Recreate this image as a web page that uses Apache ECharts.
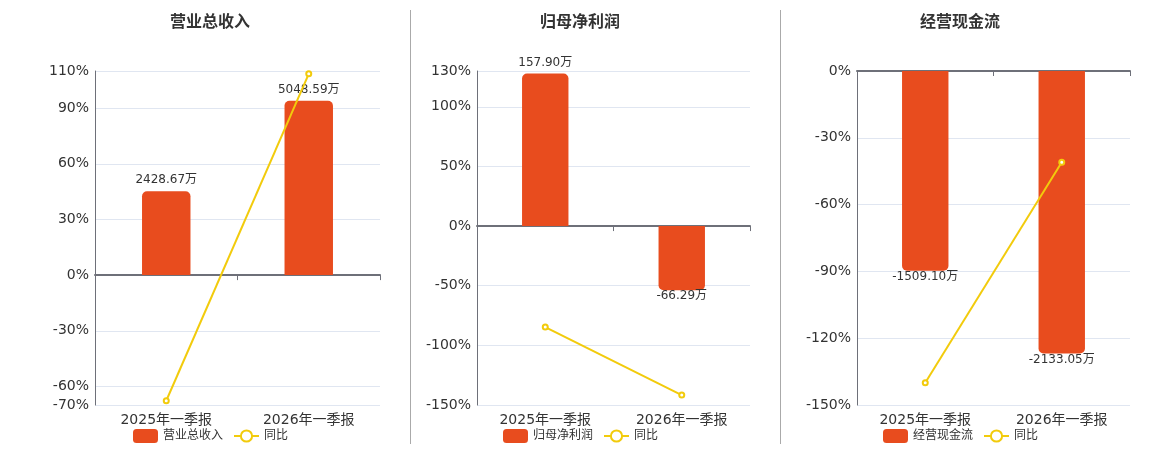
<!DOCTYPE html>
<html lang="zh">
<head>
<meta charset="UTF-8">
<title>财务指标</title>
<script src="https://cdn.jsdelivr.net/npm/echarts@6/dist/echarts.min.js"></script>
<style>
  html, body { margin: 0; padding: 0; background: #fff; }
  #main { width: 1160px; height: 450px; }
</style>
</head>
<body>
<div id="main"></div>
<script>
// 数据
var categories = ['2025年一季报', '2026年一季报'];
var titles = ['营业总收入', '归母净利润', '经营现金流'];
var barValues = [
  [2428.67, 5048.59],
  [157.90, -66.29],
  [-1509.10, -2133.05]
];
var yoyValues = [
  [-67.7, 108.5],
  [-84.7, -141.7],
  [-140.0, -41.0]
];
var yMin = [-70, -150, -150];
var yMax = [110, 130, 0];
var yTicks = [
  [-70, -60, -30, 0, 30, 60, 90, 110],
  [-150, -100, -50, 0, 50, 100, 130],
  [-150, -120, -90, -60, -30, 0]
];
// 万元 per 1% on the hidden bar axis
var barScale = [5914 / 110, 160.4 / 130, 2523 / 150];

var gridLeft = [95, 477, 857];
var gridRight = [780, 410, 30];
var panelCenter = [210, 580, 960];

var barColor = '#E84C1E';
var lineColor = '#F2CB0C';
var textColor = '#333';
var axisColor = '#6E7079';
var font = '"DejaVu Sans", "Noto Sans CJK SC", sans-serif';

var chart = echarts.init(document.getElementById('main'));

var option = {
  animation: false,
  textStyle: { fontFamily: font },
  title: [], grid: [], xAxis: [], yAxis: [], series: [], legend: [],
  graphic: [
    { type: 'line', shape: { x1: 410.5, y1: 10, x2: 410.5, y2: 444 }, style: { stroke: '#aaa', lineWidth: 1 } },
    { type: 'line', shape: { x1: 780.5, y1: 10, x2: 780.5, y2: 444 }, style: { stroke: '#aaa', lineWidth: 1 } }
  ]
};

for (var i = 0; i < 3; i++) {
  option.title.push({
    text: titles[i],
    left: panelCenter[i] - 45,
    top: 10,
    textStyle: { fontSize: 16, fontWeight: 'bold', color: textColor, fontFamily: font }
  });
  option.grid.push({ left: gridLeft[i], right: gridRight[i], top: 71, bottom: 45 });

  // bottom axis with labels
  option.xAxis.push({
    type: 'category', gridIndex: i, data: categories, position: 'bottom',
    axisLine: { show: false, onZero: false }, axisTick: { show: false },
    axisLabel: { fontSize: 14, color: textColor, margin: 8, fontFamily: font }
  });
  // zero line axis
  option.xAxis.push({
    type: 'category', gridIndex: i, data: categories, position: 'top',
    axisLine: { show: true, onZero: true, lineStyle: { color: axisColor, width: 2 } },
    axisTick: { show: true, inside: true, length: 5, lineStyle: { color: axisColor } },
    axisLabel: { show: false }
  });

  option.yAxis.push({
    type: 'value', gridIndex: i, min: yMin[i], max: yMax[i],
    axisLine: { show: true, lineStyle: { color: axisColor, width: 1 } },
    axisTick: { show: false, customValues: yTicks[i] },
    axisLabel: { fontSize: 14, color: textColor, margin: 6, fontFamily: font,
      formatter: '{value}%', customValues: yTicks[i] },
    splitLine: { show: true, lineStyle: { color: '#E0E6F1' } }
  });
  option.yAxis.push({
    type: 'value', gridIndex: i, show: false,
    min: yMin[i] * barScale[i], max: yMax[i] * barScale[i],
    splitLine: { show: false }
  });

  option.series.push({
    name: titles[i], type: 'bar',
    xAxisIndex: i * 2, yAxisIndex: i * 2 + 1,
    barWidth: '34%',
    itemStyle: { color: barColor },
    data: barValues[i].map(function (v) {
      return {
        value: v,
        itemStyle: { borderRadius: v >= 0 ? [5, 5, 0, 0] : [0, 0, 5, 5] },
        label: { position: v >= 0 ? 'top' : 'bottom', distance: v >= 0 ? 5 : 0 }
      };
    }),
    label: {
      show: true, fontSize: 12, color: textColor, fontFamily: font,
      formatter: function (p) { return p.value.toFixed(2) + '万'; }
    },
    z: 2
  });
  option.series.push({
    name: '同比', type: 'line',
    xAxisIndex: i * 2, yAxisIndex: i * 2,
    data: yoyValues[i],
    symbol: 'emptyCircle', symbolSize: 5,
    lineStyle: { color: lineColor, width: 2 },
    itemStyle: { color: lineColor },
    z: 3
  });

  option.legend.push({
    data: [{ name: titles[i], icon: 'roundRect' }, '同比'],
    left: panelCenter[i] - 82, top: 424,
    itemWidth: 25, itemHeight: 14, itemGap: 10,
    textStyle: { fontSize: 12, color: textColor, fontFamily: font }
  });
}

chart.setOption(option);
</script>
</body>
</html>
